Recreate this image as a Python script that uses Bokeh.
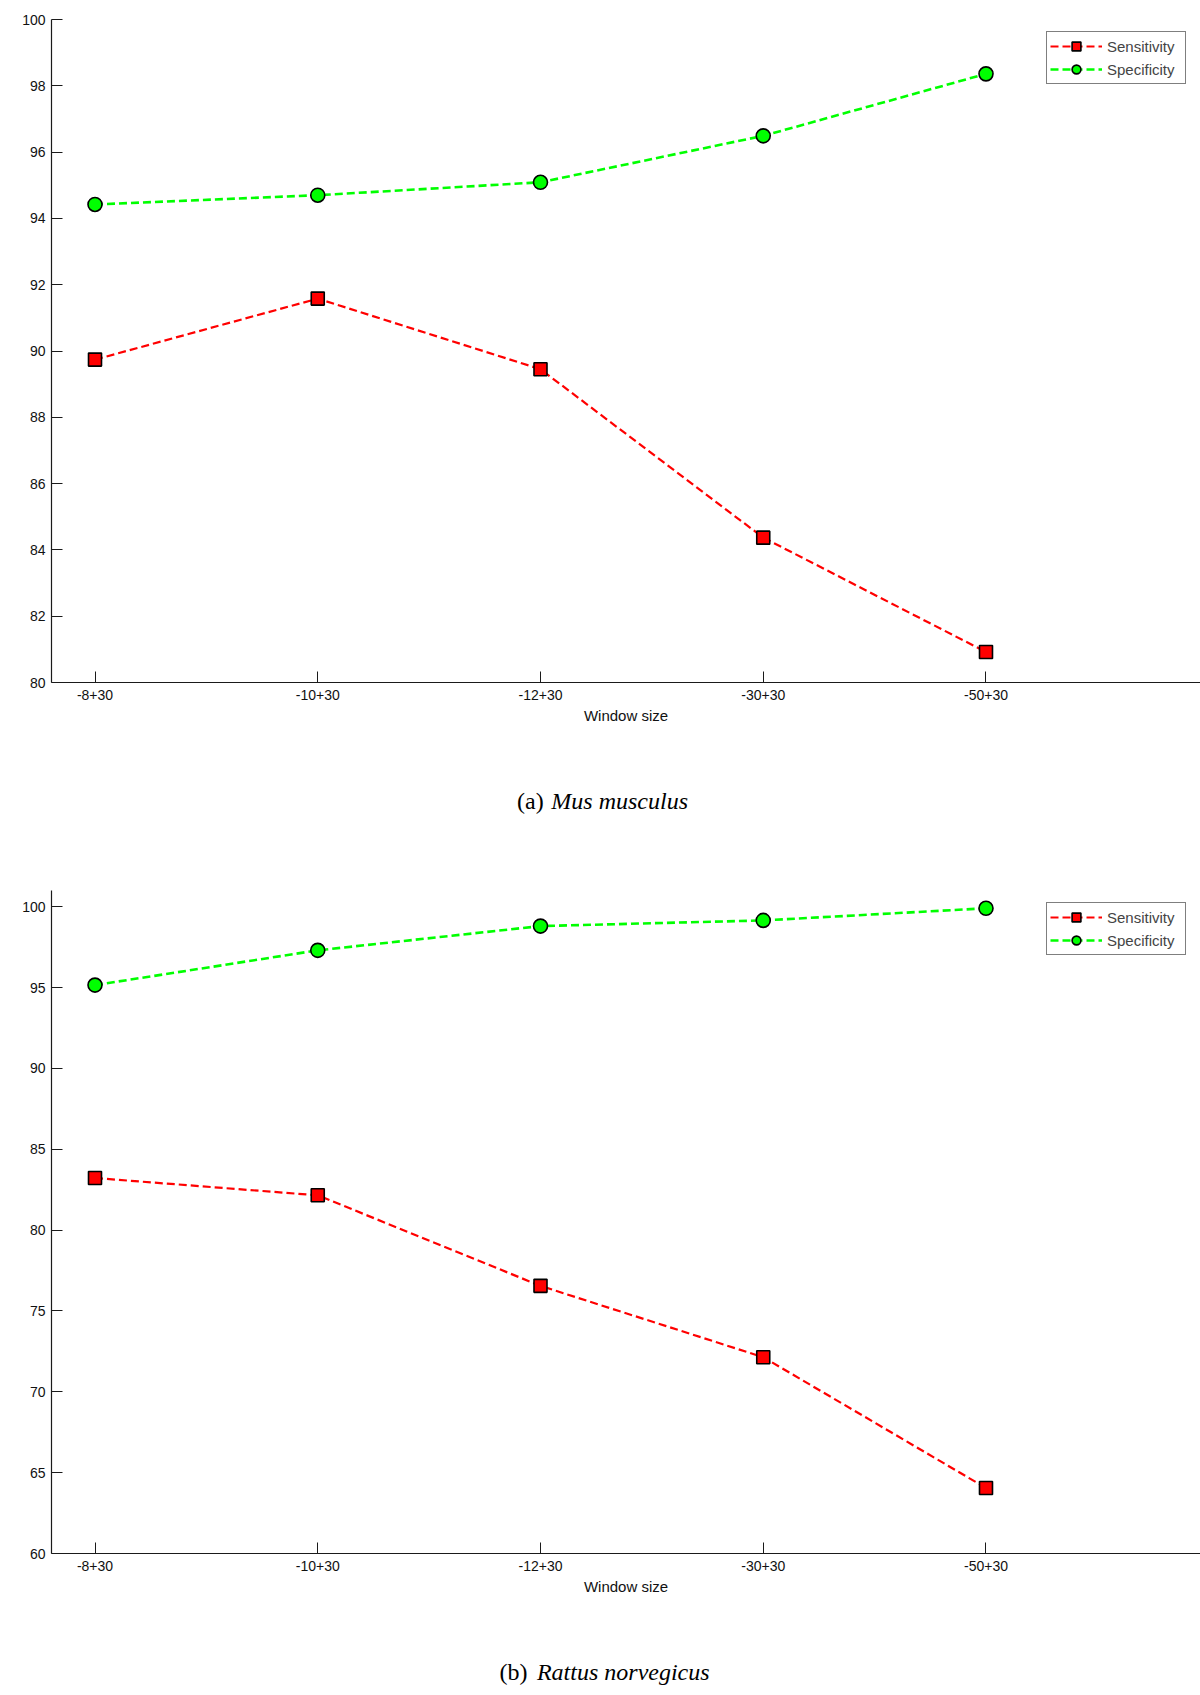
from bokeh.plotting import figure
from bokeh.layouts import column
from bokeh.models import FixedTicker, Legend, LegendItem, Range1d
from bokeh.core.properties import value
from bokeh.embed import file_html
from bokeh.resources import INLINE

# ---- data ----
windows = ["-8+30", "-10+30", "-12+30", "-30+30", "-50+30"]
xpos = [1, 2, 3, 4, 5]

mus_sensitivity = [89.74, 91.58, 89.45, 84.37, 80.92]
mus_specificity = [94.42, 94.70, 95.09, 96.49, 98.36]

rat_sensitivity = [83.22, 82.15, 76.55, 72.14, 64.05]
rat_specificity = [95.15, 97.30, 98.80, 99.15, 99.90]

mus_yticks = [80, 82, 84, 86, 88, 90, 92, 94, 96, 98, 100]
rat_yticks = [60, 65, 70, 75, 80, 85, 90, 95, 100]

SANS = "Liberation Sans"
SERIF = "Liberation Serif"
AXC = "#1a1a1a"
W = 1200


def make_panel(sens, spec, yr, yticks, height, top, bottom):
    p = figure(width=W, height=height, output_backend="svg", toolbar_location=None,
               x_range=Range1d(0.8047, 5.963), y_range=Range1d(*yr),
               min_border_left=51, min_border_right=0, min_border_top=top,
               min_border_bottom=bottom)
    p.outline_line_color = None
    p.grid.visible = False
    p.background_fill_color = "white"
    p.border_fill_color = "white"

    for ax in (p.xaxis[0], p.yaxis[0]):
        ax.axis_line_color = AXC
        ax.axis_line_width = 1.2
        ax.major_tick_line_color = AXC
        ax.major_tick_in = 11
        ax.major_tick_out = 0
        ax.minor_tick_line_color = None
        ax.major_label_text_font = SANS
        ax.major_label_text_font_size = "14px"
        ax.major_label_text_color = "#111"

    p.xaxis.ticker = FixedTicker(ticks=xpos)
    p.xaxis.major_label_overrides = {x: w for x, w in zip(xpos, windows)}
    p.xaxis.major_label_standoff = 7
    p.xaxis.axis_label = "Window size"
    p.xaxis.axis_label_text_font = SANS
    p.xaxis.axis_label_text_font_size = "15px"
    p.xaxis.axis_label_text_font_style = "normal"
    p.xaxis.axis_label_text_color = "#111"
    p.xaxis.axis_label_standoff = 4

    p.yaxis.ticker = FixedTicker(ticks=yticks)
    p.yaxis.major_label_standoff = 6

    l1 = p.line(xpos, sens, line_color="#ff0000", line_width=2.2, line_dash="8 4")
    m1 = p.scatter(xpos, sens, marker="square", size=13, fill_color="#ff0000",
                   line_color="black", line_width=1.6)
    l2 = p.line(xpos, spec, line_color="#00ff00", line_width=2.6, line_dash="8 4")
    m2 = p.scatter(xpos, spec, marker="circle", size=14, fill_color="#00ff00",
                   line_color="black", line_width=1.6)

    legend = Legend(items=[LegendItem(label="Sensitivity", renderers=[l1, m1]),
                           LegendItem(label="Specificity", renderers=[l2, m2])],
                    location=(995, 598), padding=3, spacing=1, margin=0,
                    glyph_width=52, glyph_height=22, label_height=22, label_width=75,
                    label_standoff=5, label_text_font=SANS, label_text_font_size="15px",
                    border_line_color="black", border_line_width=1,
                    background_fill_alpha=1)
    p.add_layout(legend, "center")
    return p


def make_caption(tag, species, height, base, tag_right, sp_left):
    c = figure(width=W, height=height, output_backend="svg", toolbar_location=None,
               x_range=Range1d(0, W), y_range=Range1d(0, height),
               x_axis_location=None, y_axis_location=None,
               min_border=0, min_border_left=0, min_border_right=0,
               min_border_top=0, min_border_bottom=0)
    c.grid.visible = False
    c.outline_line_color = None
    c.text(x=[tag_right], y=[base], text=[tag], text_align="right",
           text_baseline="alphabetic", text_font=value(SERIF),
           text_font_size="24px", text_color="black")
    c.text(x=[sp_left], y=[base], text=[species], text_align="left",
           text_baseline="alphabetic", text_font=value(SERIF),
           text_font_size="24px", text_font_style="italic", text_color="black")
    return c


pa = make_panel(mus_sensitivity, mus_specificity, (80, 100), mus_yticks, 740, 19, 58)
ca = make_caption("(a)", "Mus musculus", 100, 40, 514, 522)
pb = make_panel(rat_sensitivity, rat_specificity, (60, 101), rat_yticks, 771, 50, 58)
cb = make_caption("(b)", "Rattus norvegicus", 80, 20, 497, 507)

layout = column(pa, ca, pb, cb, spacing=0)
open("out.html", "w").write(file_html(layout, INLINE))
